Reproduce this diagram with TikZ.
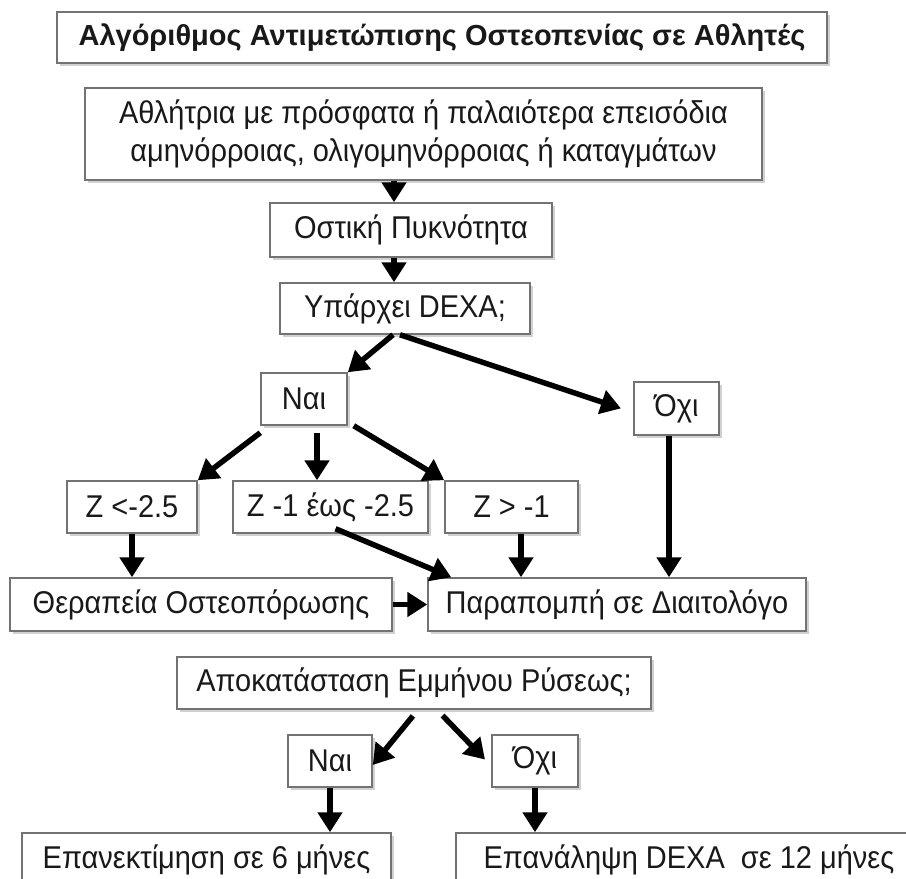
\documentclass[tikz,border=0pt]{standalone}
\usepackage{fontspec}
\setmainfont{Liberation Sans}[FakeStretch=0.92]
\newfontfamily\titlefont{Liberation Sans}
\usetikzlibrary{arrows.meta,shadows}

\begin{document}
\begin{tikzpicture}[x=1pt,y=-1pt,line width=1.5pt]
\tikzset{
  flowbox/.style={draw=black!55,fill=white,text=black!90,inner sep=0pt,align=center,
    font=\fontsize{31.5}{38}\selectfont,
    drop shadow={shadow xshift=2.5pt,shadow yshift=-2.5pt,fill=black!18,opacity=1}},
  boxsize/.style 2 args={minimum width=#1pt,minimum height=#2pt},
  flowarrow/.style={line width=5.5pt,-{Triangle[length=20pt,width=24pt]}}
}
\clip (0,0) rectangle (906,879);
% ---------- boxes ----------
\node[flowbox,boxsize={770}{51},font=\titlefont\bfseries\fontsize{29}{32}\selectfont] (title) at (442,37.5)
  {Αλγόριθμος Αντιμετώπισης Οστεοπενίας σε Αθλητές};
\node[flowbox,boxsize={677}{92}] (athlete) at (423.5,134)
  {Αθλήτρια με πρόσφατα ή παλαιότερα επεισόδια\\αμηνόρροιας, ολιγομηνόρροιας ή καταγμάτων};
\node[flowbox,boxsize={282}{54}] (density) at (411,230) {Οστική Πυκνότητα};
\node[flowbox,boxsize={250}{51}] (dexa) at (405,308.5) {Υπάρχει DEXA;};
\node[flowbox,boxsize={86}{52}] (yes) at (304,399) {Ναι};
\node[flowbox,boxsize={85}{53}] (no) at (676.5,408.5) {Όχι};
\node[flowbox,boxsize={130}{52}] (zlow) at (132,507) {Z <-2.5};
\node[flowbox,boxsize={195}{52}] (zmid) at (330.5,507) {Z -1 έως -2.5};
\node[flowbox,boxsize={133}{52}] (zhigh) at (511.5,507) {Z > -1};
\node[flowbox,boxsize={382}{53}] (therapy) at (201,604.5) {Θεραπεία Οστεοπόρωσης};
\node[flowbox,boxsize={378}{53}] (dietitian) at (617,604.5) {Παραπομπή σε Διαιτολόγο};
\node[flowbox,boxsize={474}{52}] (menses) at (414,683) {Αποκατάσταση Εμμήνου Ρύσεως;};
\node[flowbox,boxsize={84}{52}] (yes2) at (330,761) {Ναι};
\node[flowbox,boxsize={86}{52}] (no2) at (535,761) {Όχι};
\node[flowbox,boxsize={369}{54}] (recheck) at (206.5,860) {Επανεκτίμηση σε 6 μήνες};
\node[flowbox,boxsize={466}{54}] (repeat) at (689,860) {Επανάληψη DEXA~ σε 12 μήνες};
% ---------- arrows ----------
\coordinate (spine) at (394,0);
\coordinate (midx) at (317,0);
\coordinate (highx) at (521,0);
\coordinate (nox) at (669,0);
\draw[flowarrow] (athlete.south -| spine) -- (density.north -| spine);
\draw[flowarrow] (density.south -| spine) -- (dexa.north -| spine);
\draw[flowarrow] ([xshift=-12pt]dexa.south) -- (yes.north east);
\draw[flowarrow,shorten >=13pt] ([xshift=-5pt]dexa.south) -- ([yshift=-4pt]no.west);
\draw[flowarrow] ([yshift=-7pt]yes.south west) -- (zlow.north east);
\draw[flowarrow] ([yshift=-7pt]yes.south -| midx) -- (zmid.north -| midx);
\draw[flowarrow] ([xshift=6pt]yes.south east) -- (zhigh.north west);
\draw[flowarrow] (zlow.south) -- (therapy.north -| zlow.south);
\draw[flowarrow] ([xshift=5pt,yshift=5pt]zmid.south) -- ([xshift=24pt]dietitian.north west);
\draw[flowarrow] (zhigh.south -| highx) -- (dietitian.north -| highx);
\draw[flowarrow] (no.south -| nox) -- (dietitian.north -| nox);
\draw[flowarrow] (therapy.east) -- (dietitian.west);
\draw[flowarrow,shorten <=8pt] ([xshift=4pt]menses.south) -- ([yshift=-4pt]yes2.east);
\draw[flowarrow,shorten <=8pt,shorten >=9pt] ([xshift=23pt]menses.south) -- ([yshift=-5pt]no2.west);
\draw[flowarrow] (yes2.south) -- (recheck.north -| yes2.south);
\draw[flowarrow] (no2.south) -- (repeat.north -| no2.south);
\end{tikzpicture}
\end{document}
